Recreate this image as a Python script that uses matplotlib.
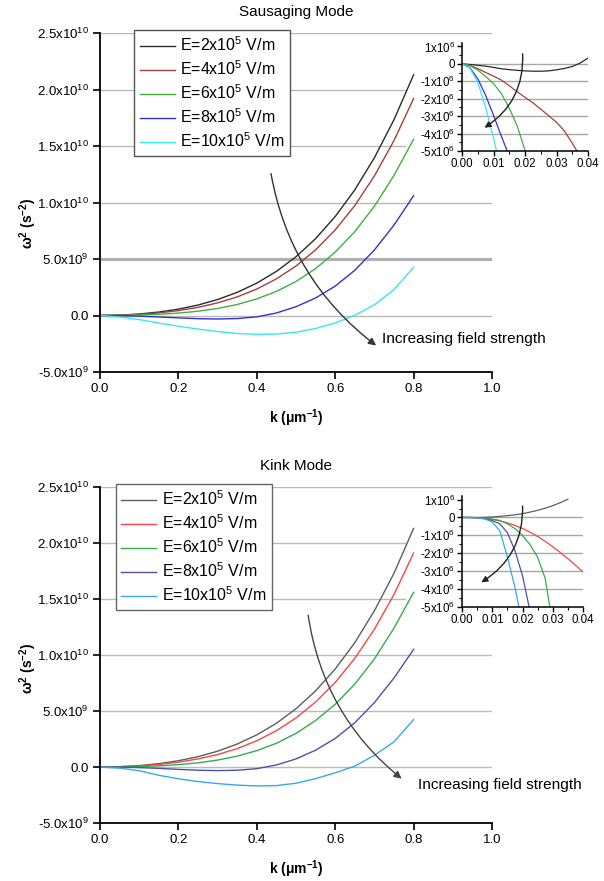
import numpy as np
import matplotlib
matplotlib.use('Agg')
import matplotlib.pyplot as plt
from matplotlib.patches import Rectangle
from matplotlib.ticker import FixedLocator, FixedFormatter, MultipleLocator

plt.rcParams['font.family'] = ['Liberation Sans', 'DejaVu Sans']
plt.rcParams['mathtext.fontset'] = 'custom'
plt.rcParams['mathtext.rm'] = 'Liberation Sans'
plt.rcParams['mathtext.it'] = 'Liberation Sans:italic'
plt.rcParams['mathtext.bf'] = 'Liberation Sans:bold'
plt.rcParams['mathtext.default'] = 'regular'
plt.rcParams['axes.unicode_minus'] = False

# ---------------- data ----------------
legend_labels = ["E=2x10$^5$ V/m", "E=4x10$^5$ V/m", "E=6x10$^5$ V/m",
                 "E=8x10$^5$ V/m", "E=10x10$^5$ V/m"]

k_main = [0.00, 0.05, 0.10, 0.15, 0.20, 0.25, 0.30, 0.35, 0.40,
          0.45, 0.50, 0.55, 0.60, 0.65, 0.70, 0.75, 0.80]

# omega^2 in units of 1e9 s^-2
saus_E2 = [0, 0.032, 0.131, 0.304, 0.563, 0.925, 1.411, 2.048, 2.867, 3.904, 5.2, 6.80, 8.755, 11.12, 13.96, 17.33, 21.3]
saus_E4 = [0, 0.024, 0.098, 0.230, 0.432, 0.720, 1.116, 1.646, 2.342, 3.24, 4.38, 5.81, 7.57, 9.73, 12.35, 15.48, 19.2]
saus_E6 = [0, 0.010, 0.044, 0.107, 0.213, 0.378, 0.624, 0.976, 1.467, 2.13, 3.01, 4.15, 5.61, 7.42, 9.67, 12.40, 15.6]
saus_E8 = [0, -0.015, -0.06, -0.13, -0.21, -0.28, -0.31, -0.27, -0.12, 0.22, 0.78, 1.55, 2.6, 4.0, 5.8, 8.0, 10.6]
saus_E10 = [0, -0.14, -0.36, -0.67, -0.95, -1.20, -1.42, -1.59, -1.67, -1.64, -1.48, -1.15, -0.66, 0.02, 0.95, 2.30, 4.26]

kink_E2 = [0, 0.03, 0.125, 0.30, 0.56, 0.92, 1.41, 2.05, 2.87, 3.90, 5.2, 6.8, 8.75, 11.1, 13.95, 17.3, 21.3]
kink_E4 = [0, 0.022, 0.095, 0.225, 0.43, 0.72, 1.11, 1.64, 2.34, 3.24, 4.38, 5.8, 7.55, 9.7, 12.3, 15.4, 19.1]
kink_E6 = [0, 0.01, 0.04, 0.10, 0.21, 0.37, 0.62, 0.97, 1.46, 2.12, 3.0, 4.15, 5.6, 7.4, 9.65, 12.4, 15.6]
kink_E8 = [0, -0.01, -0.05, -0.12, -0.21, -0.29, -0.32, -0.29, -0.15, 0.18, 0.72, 1.5, 2.55, 3.95, 5.75, 7.95, 10.5]
kink_E10 = [0, -0.10, -0.33, -0.74, -1.05, -1.30, -1.48, -1.62, -1.69, -1.66, -1.45, -1.04, -0.52, 0.08, 1.04, 2.25, 4.23]

k_inset = [0.0, 0.0025, 0.005, 0.0075, 0.01, 0.0125, 0.015, 0.0175, 0.02,
           0.0225, 0.025, 0.0275, 0.03, 0.0325, 0.035, 0.0375, 0.04]

# omega^2 in units of 1e6 s^-2
saus_in_E2 = [0, -0.03, -0.08, -0.13, -0.20, -0.28, -0.33, -0.37, -0.40, -0.42, -0.42, -0.40, -0.34, -0.26, -0.15, 0.05, 0.33]
saus_in_E4 = [0, -0.08, -0.27, -0.49, -0.70, -0.93, -1.25, -1.60, -1.92, -2.23, -2.60, -2.97, -3.35, -3.85, -4.55, -5.3]
saus_in_E6 = [0, -0.10, -0.35, -0.72, -1.13, -1.70, -2.55, -3.55, -4.95, -6.5]
saus_in_E8 = [0, -0.22, -0.85, -1.80, -2.95, -4.15, -5.3]
saus_in_E10 = [0, -0.25, -1.05, -2.5, -4.25, -6.2]

kink_in_E2 = [0, 0, 0, 0.01, 0.03, 0.06, 0.10, 0.15, 0.21, 0.30, 0.40, 0.52, 0.66, 0.83, 1.02]
kink_in_E4 = [0, 0, -0.01, -0.04, -0.10, -0.19, -0.30, -0.44, -0.61, -0.82, -1.06, -1.33, -1.63, -1.96, -2.30, -2.66, -3.04]
kink_in_E6 = [0, 0, -0.01, -0.04, -0.09, -0.17, -0.35, -0.62, -1.0, -1.52, -2.22, -3.4, -6.0]
kink_in_E8 = [0, 0, -0.02, -0.07, -0.17, -0.35, -0.85, -1.85, -3.25, -5.25]
kink_in_E10 = [0, 0, -0.02, -0.08, -0.25, -0.75, -2.2, -3.9, -6.0]

main_xticks = [0.0, 0.2, 0.4, 0.6, 0.8, 1.0]
main_xticklabels = ["0.0", "0.2", "0.4", "0.6", "0.8", "1.0"]
main_yticks = [-5e9, 0, 5e9, 1e10, 1.5e10, 2e10, 2.5e10]
main_yticklabels = ["-5.0x10$^9$", "0.0", "5.0x10$^9$", "1.0x10$^{10}$",
                    "1.5x10$^{10}$", "2.0x10$^{10}$", "2.5x10$^{10}$"]
in_xticks = [0.0, 0.01, 0.02, 0.03, 0.04]
in_xticklabels = ["0.00", "0.01", "0.02", "0.03", "0.04"]
in_yticks = [-5e6, -4e6, -3e6, -2e6, -1e6, 0, 1e6]
in_yticklabels = ["-5x10$^6$", "-4x10$^6$", "-3x10$^6$", "-2x10$^6$",
                  "-1x10$^6$", "0", "1x10$^6$"]

saus_colors = ["#2b2b2b", "#a3403c", "#3fb03f", "#3232d2", "#38e6f2"]
kink_colors = ["#5e5e5e", "#f04848", "#34ac4a", "#5050a6", "#38a8e6"]

# ---------------- figure ----------------
W, H = 604, 881
fig = plt.figure(figsize=(W / 100, H / 100), dpi=100)


def px_axes(x0, y0, x1, y1, **kw):
    return fig.add_axes([x0 / W, 1 - y1 / H, (x1 - x0) / W, (y1 - y0) / H], **kw)


def style_main(ax, title, ylab_y):
    ax.set_xlim(0, 1.0)
    ax.set_ylim(-5e9, 2.5e10)
    for s in ['top', 'right']:
        ax.spines[s].set_visible(False)
    for s in ['left', 'bottom']:
        ax.spines[s].set_linewidth(1.3)
    ax.xaxis.set_major_locator(FixedLocator(main_xticks))
    ax.xaxis.set_major_formatter(FixedFormatter(main_xticklabels))
    ax.yaxis.set_major_locator(FixedLocator(main_yticks))
    ax.yaxis.set_major_formatter(FixedFormatter(main_yticklabels))
    ax.tick_params(direction='out', length=5, width=1.2, labelsize=9.5, pad=3)
    for v in main_yticks[1:]:
        ax.axhline(v, color='#b9b9b9', lw=1.0, zorder=0.5)
    ax.set_xlabel("k (\u03bcm$^{-1}$)", fontsize=10, fontweight='bold')
    ax.xaxis.set_label_coords(0.5, -0.105)
    ax.set_ylabel("\u03c9$^2$ (s$^{-2}$)", fontsize=10, fontweight='bold')
    ax.yaxis.set_label_coords(-0.155, ylab_y)
    ax.text(0.5, 1.062, title, transform=ax.transAxes, ha='center',
            va='center', fontsize=11)


def style_inset(ax):
    ax.set_xlim(0, 0.04)
    ax.set_ylim(-5e6, 1.2e6)
    for s in ['top', 'right']:
        ax.spines[s].set_visible(False)
    for s in ['left', 'bottom']:
        ax.spines[s].set_linewidth(1.1)
    ax.xaxis.set_major_locator(FixedLocator(in_xticks))
    ax.xaxis.set_major_formatter(FixedFormatter(in_xticklabels))
    ax.yaxis.set_major_locator(FixedLocator(in_yticks))
    ax.yaxis.set_major_formatter(FixedFormatter(in_yticklabels))
    ax.xaxis.set_minor_locator(MultipleLocator(0.005))
    ax.yaxis.set_minor_locator(MultipleLocator(0.5e6))
    ax.tick_params(which='major', direction='out', length=3.5, width=1, labelsize=8.3, pad=1.5)
    ax.tick_params(which='minor', direction='out', length=2, width=0.8)
    for v in in_yticks[1:-1]:
        ax.axhline(v, color='#a8a8a8', lw=1.0, zorder=0.5)


def white_block(ax, x0, y0, x1, y1):
    ax.add_patch(Rectangle((x0 / W, 1 - y1 / H), (x1 - x0) / W, (y1 - y0) / H,
                           transform=fig.transFigure, facecolor='white',
                           edgecolor='none', zorder=1, clip_on=False))


leg_kw = dict(loc='upper left', borderaxespad=0, fontsize=11.5, handlelength=2.2,
              handletextpad=0.35, labelspacing=0.33, borderpad=0.35,
              fancybox=False, framealpha=1)

# ---------------- top panel: sausaging ----------------
ax1 = px_axes(100, 33, 492, 372)
style_main(ax1, "Sausaging Mode", 0.44)
ax1.axhline(5e9, color='#b0b0b0', lw=2.2, zorder=0.6)
white_block(ax1, 406, 38, W, 172)
for vals, c, lab in zip([saus_E2, saus_E4, saus_E6, saus_E8, saus_E10], saus_colors, legend_labels):
    ax1.plot(k_main, np.array(vals) * 1e9, color=c, lw=1.0, label=lab, zorder=2)
leg1 = ax1.legend(bbox_to_anchor=(0.087, 1.009), edgecolor='#555555', **leg_kw)
leg1.get_frame().set_linewidth(1.0)
ax1.annotate('', xy=(0.71, -2.8e9), xytext=(0.435, 1.28e10),
             arrowprops=dict(arrowstyle='-|>', connectionstyle='arc3,rad=0.2',
                             color='#333333', lw=1.0, mutation_scale=11), zorder=3)
ax1.text(0.72, -2.06e9, "Increasing field strength", fontsize=11.1, va='center', ha='left')

axi1 = px_axes(462, 43, 588, 151)
axi1.set_zorder(2)
style_inset(axi1)
for vals, c in zip([saus_in_E2, saus_in_E4, saus_in_E6, saus_in_E8, saus_in_E10], saus_colors):
    axi1.plot(k_inset[:len(vals)], np.array(vals) * 1e6, color=c, lw=0.9)
axi1.annotate('', xy=(0.0064, -3.75e6), xytext=(0.0192, 0.74e6),
              arrowprops=dict(arrowstyle='-|>', connectionstyle='arc3,rad=-0.3',
                              color='#222222', lw=1.0, mutation_scale=9))

# ---------------- bottom panel: kink ----------------
ax2 = px_axes(100, 487, 492, 823)
style_main(ax2, "Kink Mode", 0.46)
white_block(ax2, 406, 492, W, 625)
for vals, c, lab in zip([kink_E2, kink_E4, kink_E6, kink_E8, kink_E10], kink_colors, legend_labels):
    ax2.plot(k_main, np.array(vals) * 1e9, color=c, lw=1.0, label=lab, zorder=2)
leg2 = ax2.legend(bbox_to_anchor=(0.04, 1.009), edgecolor='#666666', **leg_kw)
leg2.get_frame().set_linewidth(1.0)
ax2.annotate('', xy=(0.775, -1.2e9), xytext=(0.53, 1.38e10),
             arrowprops=dict(arrowstyle='-|>', connectionstyle='arc3,rad=0.2',
                             color='#444444', lw=1.0, mutation_scale=11), zorder=3)
ax2.text(0.81, -1.58e9, "Increasing field strength", fontsize=11.1, va='center', ha='left')

axi2 = px_axes(462, 496, 583, 607)
axi2.set_zorder(2)
style_inset(axi2)
for vals, c in zip([kink_in_E2, kink_in_E4, kink_in_E6, kink_in_E8, kink_in_E10], kink_colors):
    axi2.plot(k_inset[:len(vals)], np.array(vals) * 1e6, color=c, lw=0.9)
axi2.annotate('', xy=(0.0056, -3.7e6), xytext=(0.02, 0.8e6),
              arrowprops=dict(arrowstyle='-|>', connectionstyle='arc3,rad=-0.3',
                              color='#222222', lw=1.0, mutation_scale=9))

fig.savefig("out.png", dpi=100)
